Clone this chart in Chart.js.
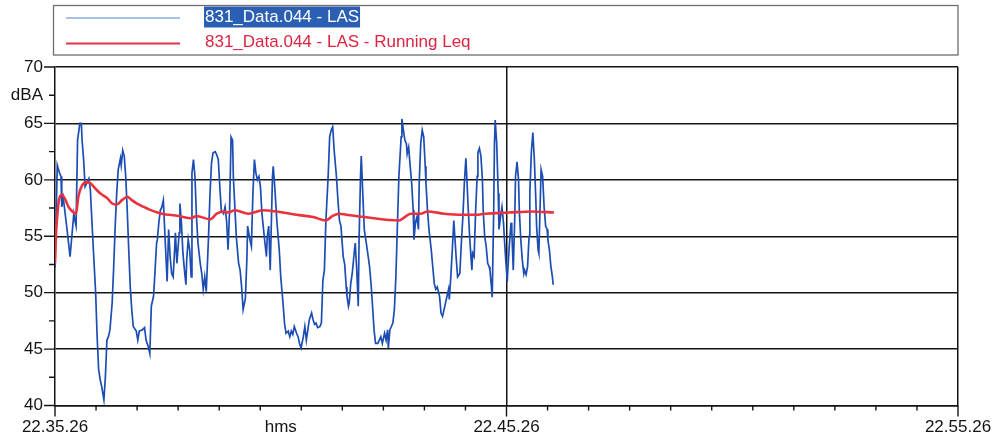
<!DOCTYPE html>
<html>
<head>
<meta charset="utf-8">
<title>831_Data.044 - LAS</title>
<script src="https://cdn.jsdelivr.net/npm/chart.js@4/dist/chart.umd.min.js"></script>
<style>
  html, body { margin: 0; padding: 0; background: #ffffff; }
  #wrap { width: 994px; height: 437px; }
</style>
</head>
<body>
<div id="wrap"><canvas id="chart" width="994" height="437"></canvas></div>
<script>
// Measurement start (clock time) and the span shown on the x axis, in seconds
const startClock = [22, 35, 26];
const spanSeconds = 1200;

// LAS level, sampled seconds after start -> dBA
const lasSeconds = [
  0, 3, 6, 8, 9, 11, 16, 20, 25, 27,
  28, 30, 33, 35, 36, 38, 40, 43, 45, 47,
  49, 51, 54, 56, 58, 60, 62, 65, 67, 69,
  71, 73, 76, 78, 80, 82, 84, 87, 88, 90,
  92, 94, 96, 98, 100, 102, 104, 108, 110, 112,
  116, 119, 121, 124, 126, 128, 131, 133, 135, 136,
  138, 140, 142, 144, 145, 147, 149, 151, 153, 155,
  157, 159, 160, 162, 165, 166, 168, 170, 172, 174,
  175, 177, 179, 181, 182, 184, 186, 188, 190, 193,
  195, 197, 199, 201, 204, 206, 208, 210, 213, 215,
  217, 219, 221, 224, 226, 228, 230, 232, 234, 236,
  237, 239, 241, 244, 246, 248, 250, 253, 255, 256,
  259, 261, 263, 265, 267, 269, 271, 273, 275, 279,
  281, 282, 284, 286, 289, 290, 292, 295, 298, 300,
  303, 305, 307, 310, 312, 314, 316, 318, 321, 323,
  325, 327, 330, 332, 334, 336, 338, 341, 343, 345,
  347, 349, 352, 354, 356, 358, 360, 363, 365, 367,
  369, 371, 374, 376, 378, 380, 383, 385, 387, 388,
  390, 391, 393, 395, 398, 399, 401, 403, 404, 406,
  407, 409, 411, 413, 415, 418, 420, 422, 424, 426,
  429, 431, 433, 435, 438, 440, 442, 443, 445, 447,
  449, 451, 453, 455, 457, 460, 461, 463, 465, 467,
  468, 470, 472, 474, 476, 477, 479, 481, 483, 484,
  486, 488, 490, 492, 493, 495, 497, 500, 502, 504,
  506, 508, 511, 513, 515, 517, 519, 521, 523, 524,
  526, 528, 530, 531, 533, 535, 538, 540, 542, 544,
  546, 547, 549, 551, 553, 554, 555, 557, 559, 561,
  562, 564, 566, 568, 569, 571, 573, 575, 577, 578,
  580, 581, 583, 584, 585, 587, 589, 590, 592, 594,
  596, 597, 599, 601, 602, 604, 606, 607, 609, 611,
  612, 614, 616, 617, 619, 621, 623, 624, 626, 628,
  630, 631, 633, 635, 637, 639, 640, 642, 643, 645,
  646, 648, 650, 652, 654, 655, 657, 659, 661, 662
];
const lasValues = [
  52.2, 61.3, 60.6, 60.3, 57.6, 58.4, 55.6, 53.2, 57.0, 56.2,
  55.9, 63.5, 65.0, 65.0, 63.5, 61.8, 59.4, 59.8, 60.1, 59.1,
  56.4, 53.8, 50.0, 46.1, 43.2, 42.3, 41.7, 40.5, 42.6, 45.8,
  46.1, 46.7, 49.1, 52.3, 55.9, 58.8, 60.9, 61.9, 61.3, 62.6,
  62.1, 60.3, 57.3, 53.8, 50.5, 48.5, 47.0, 46.6, 45.8, 46.6,
  46.7, 46.9, 45.8, 45.2, 44.6, 48.8, 49.7, 52.0, 54.4, 54.7,
  56.2, 57.3, 57.6, 58.2, 56.7, 53.8, 51.0, 55.6, 53.2, 51.7,
  51.4, 53.8, 55.3, 52.6, 55.3, 57.9, 56.2, 53.5, 52.0, 50.7,
  52.9, 54.7, 53.8, 51.4, 60.6, 61.8, 60.3, 56.7, 54.4, 52.6,
  51.7, 50.3, 51.4, 50.1, 54.9, 58.8, 61.5, 62.4, 62.5, 62.2,
  61.8, 59.4, 57.3, 57.0, 57.6, 56.4, 53.8, 57.3, 63.8, 63.5,
  60.3, 57.6, 54.9, 52.6, 52.0, 50.5, 48.5, 49.5, 53.0, 55.9,
  54.7, 54.1, 58.8, 61.8, 60.6, 60.0, 60.3, 59.4, 57.0, 54.4,
  53.2, 54.9, 55.9, 52.0, 60.3, 61.2, 59.4, 56.2, 53.8, 51.4,
  49.1, 47.3, 46.4, 46.6, 46.1, 46.6, 46.3, 47.0, 46.4, 46.1,
  45.5, 45.1, 46.1, 47.0, 45.8, 46.7, 47.6, 48.2, 47.6, 47.2,
  47.3, 46.9, 47.0, 47.3, 51.1, 52.0, 56.4, 60.3, 63.8, 64.4,
  64.7, 62.6, 60.3, 58.2, 56.4, 55.9, 53.2, 52.5, 50.5, 49.7,
  48.8, 49.1, 50.8, 51.7, 53.8, 54.4, 52.0, 48.8, 54.4, 60.3,
  62.1, 58.8, 55.6, 54.7, 53.8, 52.3, 50.8, 48.8, 46.7, 45.5,
  45.5, 45.8, 46.1, 45.5, 46.4, 45.8, 46.7, 45.1, 46.7, 47.0,
  47.3, 48.5, 51.4, 55.9, 60.3, 63.8, 65.4, 64.4, 63.5, 63.2,
  62.3, 62.9, 61.2, 59.7, 57.3, 54.7, 56.2, 56.7, 55.6, 59.7,
  63.2, 64.4, 63.8, 61.2, 59.7, 57.3, 55.6, 53.8, 52.3, 50.8,
  50.3, 50.5, 49.7, 48.2, 47.9, 48.5, 49.1, 49.7, 50.3, 49.4,
  51.4, 53.8, 56.4, 55.3, 53.2, 51.4, 51.7, 54.4, 56.7, 59.7,
  61.9, 60.6, 57.6, 55.0, 52.9, 52.0, 53.5, 53.2, 57.3, 60.3,
  62.4, 62.8, 62.1, 60.0, 57.3, 55.0, 54.1, 52.6, 52.3, 52.0,
  50.5, 49.6, 57.3, 63.2, 65.3, 63.2, 58.8, 55.6, 56.7, 57.6,
  56.2, 55.0, 52.9, 51.0, 52.3, 54.4, 56.2, 55.6, 52.0, 56.7,
  60.3, 61.6, 60.0, 57.3, 54.7, 52.9, 51.7, 52.0, 51.6, 52.3,
  55.0, 58.8, 62.4, 64.2, 61.8, 58.2, 55.9, 53.8, 53.5, 58.5,
  60.9, 60.3, 57.6, 55.9, 55.6, 54.7, 53.8, 52.3, 51.4, 50.7
];

// Running Leq of the same channel
const leqSeconds = [
  0, 1, 3, 5, 9, 14, 18, 23, 28, 31,
  36, 43, 47, 54, 60, 69, 76, 82, 89, 96,
  102, 109, 118, 124, 136, 142, 164, 181, 188, 206,
  215, 224, 230, 239, 257, 276, 294, 321, 343, 360,
  369, 378, 387, 411, 457, 473, 486, 495, 517, 541,
  559, 572, 603, 634, 663
];
const leqValues = [
  52.6, 54.8, 56.8, 58.1, 58.7, 58.2, 57.6, 57.2, 57.0, 58.5,
  59.5, 59.8, 59.7, 59.2, 58.8, 58.4, 57.9, 57.8, 58.2, 58.5,
  58.2, 57.9, 57.6, 57.4, 57.1, 57.0, 56.8, 56.6, 56.8, 56.5,
  57.0, 57.2, 57.1, 57.3, 57.0, 57.3, 57.2, 56.9, 56.7, 56.4,
  56.8, 57.0, 56.9, 56.7, 56.4, 57.0, 57.0, 57.2, 57.0, 56.9,
  56.9, 57.0, 57.1, 57.2, 57.1
];

const seriesNames = ['831_Data.044 - LAS', '831_Data.044 - LAS - Running Leq'];

// Axis labels
const xLabelSeconds = [0, 600, 1200];
const xAxisTitle = 'hms';
const xTitleSecond = 300;
const yUnitLabel = 'dBA';
const yUnitValue = 67.5;

const FONT = '"Liberation Sans", Arial, Helvetica, sans-serif';
const INK = '#141414';

function clockLabel(sec) {
  let total = startClock[0] * 3600 + startClock[1] * 60 + startClock[2] + Math.round(sec);
  const h = Math.floor(total / 3600) % 24;
  const m = Math.floor(total / 60) % 60;
  const s = total % 60;
  const p = n => String(n).padStart(2, '0');
  return p(h) + '.' + p(m) + '.' + p(s);
}

const toPoints = (xs, ys) => xs.map((x, i) => ({ x: x, y: ys[i] }));

// Short tick marks outside the plot frame
const tickMarks = {
  id: 'tickMarks',
  afterDraw(chart) {
    const { ctx, chartArea: a } = chart;
    const xs = chart.scales.x, ys = chart.scales.y;
    ctx.save();
    ctx.strokeStyle = INK;
    ctx.lineWidth = 1.4;
    ctx.beginPath();
    ys.ticks.forEach(t => {
      const y = ys.getPixelForValue(t.value);
      const len = t.value % 5 === 0 ? 11 : 6;
      ctx.moveTo(a.left - len, y);
      ctx.lineTo(a.left, y);
    });
    const minorCount = 22;
    for (let i = 0; i <= minorCount; i++) {
      const sec = spanSeconds * i / minorCount;
      const x = xs.getPixelForValue(sec);
      const len = (i % 11 === 0) ? 11 : 5;
      ctx.moveTo(x, a.bottom);
      ctx.lineTo(x, a.bottom + len);
    }
    ctx.stroke();
    ctx.restore();
  }
};

// Boxed legend above the plot; the first entry is shown selected
const boxLegend = {
  id: 'boxLegend',
  afterDraw(chart) {
    const ctx = chart.ctx;
    const left = 53.5, top = 5.5, right = 958, bottom = 55;
    ctx.save();
    ctx.strokeStyle = '#6e6e6e';
    ctx.lineWidth = 1.3;
    ctx.strokeRect(left, top, right - left, bottom - top);
    ctx.font = '17px ' + FONT;
    ctx.textBaseline = 'middle';
    const rows = [17, 42.5];
    chart.data.datasets.forEach((ds, i) => {
      const y = rows[i];
      ctx.strokeStyle = i === 0 ? '#4f8ad4' : '#e2354d';
      ctx.lineWidth = i === 0 ? 1.2 : 2;
      ctx.beginPath();
      ctx.moveTo(66, y + 1);
      ctx.lineTo(180, y + 1);
      ctx.stroke();
      const tx = 204;
      if (i === 0) {
        const w = ctx.measureText(ds.label).width;
        ctx.fillStyle = '#2a5fb3';
        ctx.fillRect(tx, y - 10.5, w + 2, 21);
        ctx.fillStyle = '#ffffff';
      } else {
        ctx.fillStyle = '#dd2440';
      }
      ctx.fillText(ds.label, tx + 1, y);
    });
    ctx.restore();
  }
};

new Chart(document.getElementById('chart'), {
  type: 'line',
  data: {
    datasets: [
      {
        label: seriesNames[0],
        data: toPoints(lasSeconds, lasValues),
        borderColor: '#1c4db3',
        borderWidth: 1.7,
        pointRadius: 0,
        tension: 0,
        order: 1
      },
      {
        label: seriesNames[1],
        data: toPoints(leqSeconds, leqValues),
        borderColor: '#e8333f',
        borderWidth: 2.6,
        pointRadius: 0,
        cubicInterpolationMode: 'monotone',
        order: 0
      }
    ]
  },
  options: {
    responsive: false,
    animation: false,
    events: [],
    layout: { padding: { top: 67, left: 0, right: 36, bottom: 0 } },
    plugins: { legend: { display: false }, tooltip: { enabled: false } },
    scales: {
      x: {
        type: 'linear',
        min: 0,
        max: spanSeconds,
        afterBuildTicks(scale) {
          scale.ticks = xLabelSeconds.concat([xTitleSecond]).sort((a, b) => a - b).map(v => ({ value: v }));
        },
        afterFit(scale) {
          scale.height = 31.5;
          scale.paddingLeft = 0;
          scale.paddingRight = 0;
        },
        ticks: {
          autoSkip: false,
          maxRotation: 0,
          padding: 12,
          color: INK,
          font: { family: FONT, size: 17 },
          callback(v) { return v === xTitleSecond ? xAxisTitle : clockLabel(v); }
        },
        grid: {
          drawTicks: false,
          lineWidth: 1.5,
          color(c) {
            const v = c.tick && c.tick.value;
            return (v === 600 || v === spanSeconds) ? INK : 'rgba(0,0,0,0)';
          }
        },
        border: { display: true, color: INK, width: 1.5 }
      },
      y: {
        min: 40,
        max: 70,
        afterFit(scale) {
          scale.width = 55;
          scale.paddingTop = 0;
          scale.paddingBottom = 0;
        },
        ticks: {
          stepSize: 2.5,
          autoSkip: false,
          padding: 12,
          color: INK,
          font: { family: FONT, size: 17 },
          callback(v) {
            if (v === yUnitValue) return yUnitLabel;
            return v % 5 === 0 ? String(v) : '';
          }
        },
        grid: {
          drawTicks: false,
          lineWidth: 1.5,
          color(c) {
            const v = c.tick && c.tick.value;
            return v % 5 === 0 ? INK : 'rgba(0,0,0,0)';
          }
        },
        border: { display: true, color: INK, width: 1.5 }
      }
    }
  },
  plugins: [tickMarks, boxLegend]
});
</script>
</body>
</html>
